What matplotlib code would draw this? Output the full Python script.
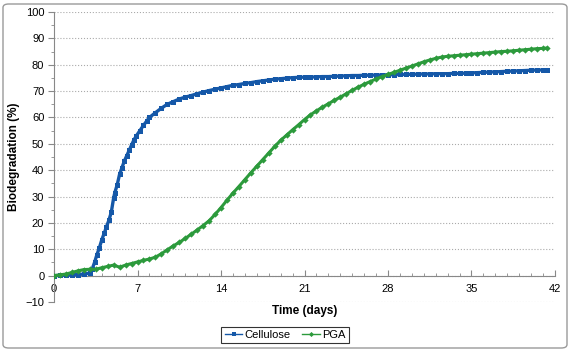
import numpy as np
import matplotlib
matplotlib.use("Agg")
import matplotlib.pyplot as plt
from matplotlib.patches import FancyBboxPatch
from matplotlib.ticker import MultipleLocator

plt.rcParams['font.family'] = ['Liberation Sans', 'DejaVu Sans']

# Cellulose (time in days, biodegradation in %)
cel_days = [0, 0.5, 1.0, 1.5, 2.0, 2.5, 3.0, 3.2, 3.4, 3.6, 3.8, 4.0, 4.2, 4.4, 4.6, 4.8,
            5.0, 5.1, 5.3, 5.5, 5.7, 5.9, 6.1, 6.3, 6.5, 6.7, 6.9, 7.2, 7.5, 7.8, 8.0,
            8.5, 9.0, 9.5, 10.0, 10.5, 11.0, 11.5, 12.0, 12.5, 13.0, 13.5, 14.0, 14.5,
            15.0, 15.5, 16.0, 16.5, 17.0, 17.5, 18.0, 18.5, 19.0, 19.5, 20.0, 20.5,
            21.0, 21.5, 22.0, 22.5, 23.0, 23.5, 24.0, 24.5, 25.0, 25.5, 26.0, 26.5,
            27.0, 27.5, 28.0, 28.5, 29.0, 29.5, 30.0, 30.5, 31.0, 31.5, 32.0, 32.5,
            33.0, 33.5, 34.0, 34.5, 35.0, 35.5, 36.0, 36.5, 37.0, 37.5, 38.0, 38.5,
            39.0, 39.5, 40.0, 40.5, 41.0, 41.3]
cel_vals = [0.0, 0.1, 0.2, 0.3, 0.4, 0.6, 1.0, 2.5, 5.0, 8.0, 10.5, 13.5, 16.0, 18.5, 21.0, 24.0,
            29.5, 31.5, 34.5, 38.5, 41.0, 43.5, 45.5, 47.5, 49.5, 51.5, 53.0, 55.0, 57.0, 58.8, 60.0,
            61.8, 63.5, 65.0, 66.0, 67.0, 67.7, 68.3, 69.0, 69.6, 70.2, 70.7, 71.2, 71.7,
            72.2, 72.5, 72.9, 73.2, 73.6, 73.9, 74.2, 74.5, 74.7, 74.9, 75.1, 75.2,
            75.3, 75.3, 75.4, 75.5, 75.5, 75.6, 75.7, 75.8, 75.9, 75.9, 76.0, 76.0,
            76.1, 76.1, 76.2, 76.2, 76.3, 76.3, 76.4, 76.4, 76.5, 76.5, 76.6, 76.6,
            76.6, 76.7, 76.7, 76.8, 76.9, 77.0, 77.1, 77.2, 77.3, 77.4, 77.5, 77.6,
            77.7, 77.8, 77.9, 78.0, 78.0, 78.1]

# PGA
pga_days = [0, 0.5, 1.0, 1.5, 2.0, 2.5, 3.0, 3.5, 4.0, 4.5, 5.0, 5.5, 6.0, 6.5, 7.0, 7.5,
            8.0, 8.5, 9.0, 9.5, 10.0, 10.5, 11.0, 11.5, 12.0, 12.5, 13.0, 13.5, 14.0,
            14.5, 15.0, 15.5, 16.0, 16.5, 17.0, 17.5, 18.0, 18.5, 19.0, 19.5, 20.0,
            20.5, 21.0, 21.5, 22.0, 22.5, 23.0, 23.5, 24.0, 24.5, 25.0, 25.5, 26.0,
            26.5, 27.0, 27.5, 28.0, 28.5, 29.0, 29.5, 30.0, 30.5, 31.0, 31.5, 32.0,
            32.5, 33.0, 33.5, 34.0, 34.5, 35.0, 35.5, 36.0, 36.5, 37.0, 37.5, 38.0,
            38.5, 39.0, 39.5, 40.0, 40.5, 41.0, 41.3]
pga_vals = [0.0, 0.3, 0.6, 1.2, 1.8, 2.3, 2.4, 2.4, 3.0, 3.5, 4.0, 3.2, 4.0, 4.6, 5.2, 5.8,
            6.3, 7.0, 8.3, 9.8, 11.3, 12.6, 14.1, 15.7, 17.3, 19.0, 20.8, 23.2, 25.8,
            28.6, 31.3, 33.8, 36.4, 39.0, 41.5, 44.0, 46.5, 49.0, 51.3, 53.3, 55.3,
            57.2, 59.2, 61.0, 62.5, 63.9, 65.2, 66.5, 67.7, 69.0, 70.3, 71.5, 72.6,
            73.6, 74.6, 75.5, 76.3, 77.1, 77.9, 78.7, 79.5, 80.3, 81.1, 81.8, 82.4,
            82.9, 83.2, 83.4, 83.6, 83.8, 84.0, 84.2, 84.4, 84.6, 84.8, 85.0, 85.1,
            85.3, 85.5, 85.7, 85.9, 86.1, 86.2, 86.3]

fig = plt.figure(figsize=(5.72, 3.51), dpi=100)
ax = fig.add_axes([54 / 572, 1 - 302 / 351, (555 - 54) / 572, (302 - 12) / 351])

blue = '#1558a8'
green = '#2c9a3c'
ax.plot(cel_days, cel_vals, color=blue, lw=2.4, marker='s', ms=3.6, mew=0,
        label='Cellulose', zorder=3)
ax.plot(pga_days, pga_vals, color=green, lw=2.2, marker='D', ms=3.2, mew=0,
        label='PGA', zorder=3)

ax.set_xlim(0, 42)
ax.set_ylim(-10, 100)
ax.xaxis.set_major_locator(MultipleLocator(7))
ax.xaxis.set_minor_locator(MultipleLocator(1))
ax.yaxis.set_major_locator(MultipleLocator(10))
ax.yaxis.set_minor_locator(MultipleLocator(5))

ax.spines['top'].set_visible(False)
ax.spines['right'].set_visible(False)
ax.spines['bottom'].set_position(('data', 0))
for s in ['left', 'bottom']:
    ax.spines[s].set_color('#888888')
    ax.spines[s].set_linewidth(0.8)

ax.tick_params(axis='x', which='both', direction='in', colors='#888888', labelcolor='black',
               labelsize=8, pad=6)
ax.tick_params(axis='x', which='major', length=4)
ax.tick_params(axis='x', which='minor', length=2.5)
ax.tick_params(axis='y', which='both', direction='out', colors='#888888', labelcolor='black',
               labelsize=8, pad=3)
ax.tick_params(axis='y', which='major', length=4)
ax.tick_params(axis='y', which='minor', length=2.5)

ax.grid(axis='y', which='major', color='#aaaaaa', linestyle=':', linewidth=0.8)
ax.set_axisbelow(True)

ax.set_ylabel('Biodegradation (%)', fontsize=8.5, fontweight='bold', labelpad=4)
fig.text((54 + 555) / 2 / 572, 1 - 311 / 351, 'Time (days)', ha='center', va='center',
         fontsize=8.5, fontweight='bold')

# legend uses thin-line handles like the reference
from matplotlib.lines import Line2D
handles = [Line2D([], [], color=blue, lw=1.0, marker='s', ms=3, mew=0),
           Line2D([], [], color=green, lw=1.0, marker='D', ms=2.6, mew=0)]
leg = fig.legend(handles, ['Cellulose', 'PGA'], loc='center',
                 bbox_to_anchor=(285 / 572, 1 - 335 / 351), ncol=2,
                 fontsize=8, frameon=True, fancybox=False, handlelength=1.6,
                 handletextpad=0.2, columnspacing=1.0, borderpad=0.3)
leg.get_frame().set_edgecolor('black')
leg.get_frame().set_linewidth(0.8)

border = FancyBboxPatch((3 / 572, 3 / 351), 564 / 572, 344 / 351,
                        boxstyle='round,pad=0,rounding_size=0.01',
                        transform=fig.transFigure, fill=False, edgecolor='#9a9a9a', lw=1.0)
fig.patches.append(border)

fig.savefig('out.png', dpi=100)
